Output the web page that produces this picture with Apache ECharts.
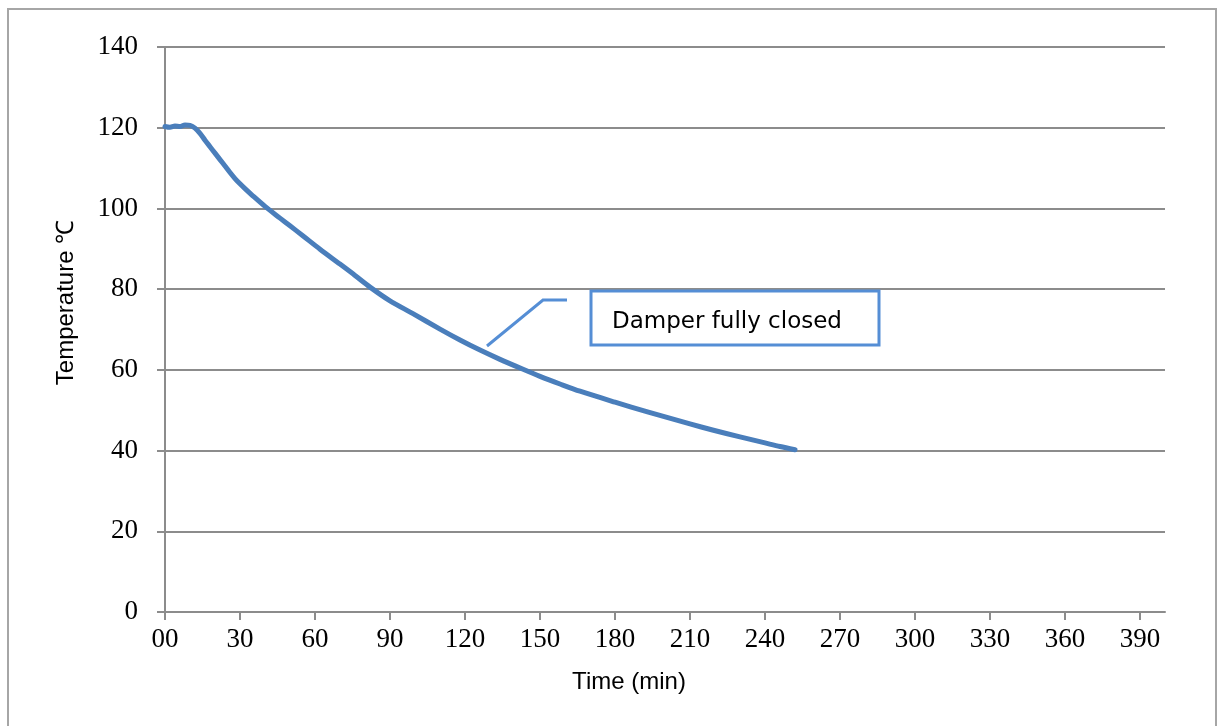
<!DOCTYPE html>
<html>
<head>
<meta charset="utf-8">
<script src="https://cdn.jsdelivr.net/npm/echarts@6/dist/echarts.min.js"></script>
<style>
html,body{margin:0;padding:0;background:#fff;}
#chart{width:1218px;height:726px;}
</style>
</head>
<body>
<div id="chart"></div>
<script>
// Time in minutes
const timeMin = [0,2,4,6,8,10,12,14,16,18,20,22,24,26,28,30,32,35,40,46,50,55,62,70,76,82,90,99,110,118,126,134,143,150,158,166,180,193,210,219,230,240,246,252];
// Temperature in °C
const tempC = [120.3,120.1,120.4,120.3,120.7,120.6,119.9,118.6,116.9,115.3,113.7,112.1,110.5,108.9,107.4,106.1,104.9,103.2,100.5,97.6,95.7,93.3,89.9,86.2,83.4,80.5,77.1,74.0,70.1,67.4,64.9,62.6,60.2,58.4,56.5,54.7,52.0,49.6,46.6,45.1,43.4,41.9,41.0,40.2];
const xTickLabels = ['00','30','60','90','120','150','180','210','240','270','300','330','360','390'];
const yTickLabels = ['0','20','40','60','80','100','120','140'];
const xAxisTitle = 'Time (min)';
const yAxisTitle = 'Temperature ℃';
const calloutText = 'Damper fully closed';

const chart = echarts.init(document.getElementById('chart'), null, {renderer:'canvas'});
const gray = '#8c8c8c';
const blue = '#4A7EBB';
const calloutBlue = '#558ED5';

chart.setOption({
  animation: false,
  backgroundColor: '#fff',
  grid: {left:165, right:53, top:47, bottom:114, containLabel:false},
  xAxis: {
    type:'value', min:0, max:400, interval:30,
    name: xAxisTitle, nameLocation:'middle', nameGap:58,
    nameTextStyle:{fontFamily:'Liberation Sans', fontSize:24, color:'#000', padding:[0,72,0,0]},
    axisLine:{show:true, lineStyle:{color:gray, width:2}},
    axisTick:{show:true, length:8, lineStyle:{color:gray, width:2}},
    splitLine:{show:false},
    axisLabel:{
      showMaxLabel:false, margin:14,
      fontFamily:'Liberation Serif', fontSize:27, color:'#000',
      formatter: v => xTickLabels[Math.round(v/30)] ?? ''
    }
  },
  yAxis: {
    type:'value', min:0, max:140, interval:20,
    name: yAxisTitle, nameLocation:'middle', nameGap:87, nameRotate:90,
    nameTextStyle:{fontFamily:'Liberation Sans', fontSize:24, color:'#000', padding:[0,0,0,54]},
    axisLine:{show:true, lineStyle:{color:gray, width:2}},
    axisTick:{show:true, length:8, lineStyle:{color:gray, width:2}},
    splitLine:{show:true, lineStyle:{color:gray, width:2}},
    axisLabel:{
      margin:27,
      fontFamily:'Liberation Serif', fontSize:27, color:'#000',
      formatter: v => yTickLabels[Math.round(v/20)] ?? ''
    }
  },
  series: [{
    type:'line',
    data: timeMin.map((t,i)=>[t,tempC[i]]),
    showSymbol:false, symbol:'none', smooth:0.3,
    lineStyle:{color:blue, width:5, cap:'round', join:'round'},
    z:3
  }],
  graphic: [
    {type:'rect', shape:{x:8, y:9, width:1208, height:740}, style:{fill:'none', stroke:'#a6a6a6', lineWidth:2}, z:-1, silent:true},
    {type:'polyline', shape:{points:[[487,346],[543,300],[567,300]]}, style:{stroke:calloutBlue, lineWidth:3, fill:null}, z:10},
    {type:'rect', shape:{x:591, y:291, width:288, height:54}, style:{fill:'#fff', stroke:calloutBlue, lineWidth:3}, z:10},
    {type:'text', x:612, y:322, style:{text:calloutText, fontFamily:'DejaVu Sans', fontSize:23, fill:'#000', textVerticalAlign:'middle'}, z:11}
  ]
});
</script>
</body>
</html>
